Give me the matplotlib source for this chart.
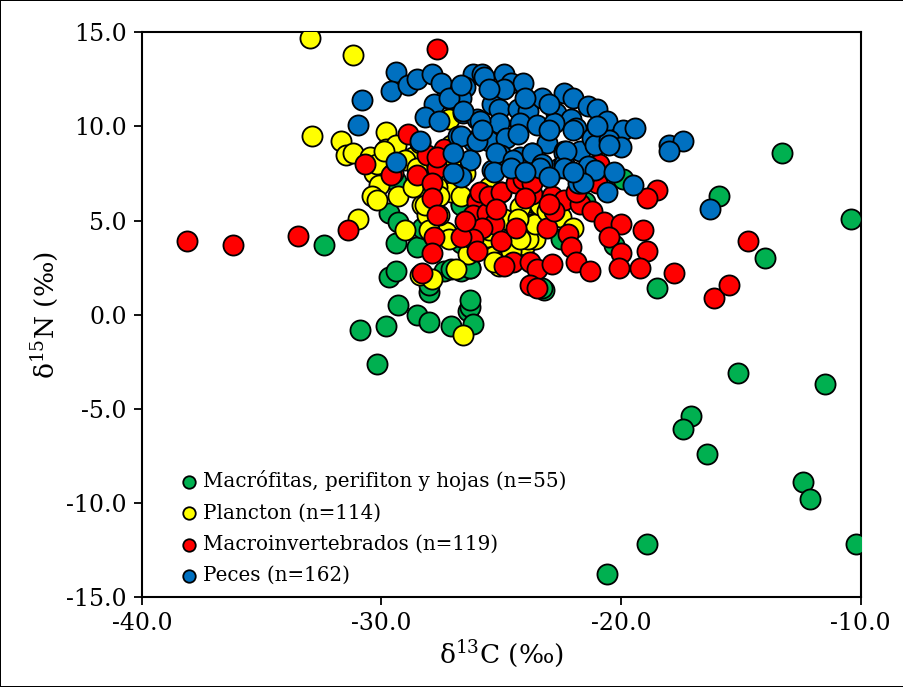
import matplotlib
matplotlib.use("Agg")
import matplotlib.pyplot as plt

# ---------------- data ----------------
labels = ["Macrófitas, perifiton y hojas (n=55)", "Plancton (n=114)",
          "Macroinvertebrados (n=119)", "Peces (n=162)"]
colors = ["#00B050", "#FFFF00", "#FF0000", "#0070C0"]

green_x = [-13.3, -10.4, -15.9, -14.0, -18.5, -15.1, -11.5, -17.1, -17.4, -16.4, -12.4, -12.1,
           -10.2, -18.9, -20.6, -32.4, -29.7, -29.3, -29.4, -28.5, -29.7, -29.4, -27.4, -26.7,
           -26.3, -28.0, -28.0, -29.3, -28.5, -28.0, -30.9, -29.8, -27.1, -26.4, -26.3, -26.2,
           -30.2, -26.7, -23.2, -28.3, -26.7, -19.9, -20.3, -24.8, -29.4, -26.7, -27.1, -26.3,
           -23.3, -26.3, -25.5, -24.0, -22.5, -21.5, -25.0]
green_y = [8.6, 5.1, 6.3, 3.0, 1.4, -3.1, -3.7, -5.4, -6.1, -7.4, -8.9, -9.8,
           -12.2, -12.2, -13.8, 3.7, 5.4, 4.9, 3.8, 3.6, 2.0, 2.3, 2.3, 2.3,
           2.5, 1.2, 1.6, 0.5, 0.0, -0.4, -0.8, -0.6, -0.6, 0.2, 0.4, -0.5,
           -2.6, 5.9, 1.3, 4.6, 3.8, 7.2, 3.7, 3.8, 7.1, 5.8, 2.4, 2.5,
           1.4, 0.8, 4.5, 3.0, 4.0, 6.0, 6.5]

yellow_x = [-33.0, -31.2, -32.9, -31.7, -31.5, -31.2, -30.5, -29.8, -29.8, -30.3, -30.1, -30.4,
            -30.2, -31.0, -29.0, -28.3, -28.1, -28.4, -27.9, -28.2, -28.7, -28.4, -28.1, -28.0,
            -27.1, -26.9, -27.1, -27.2, -26.6, -27.3, -24.1, -24.6, -23.9, -23.4, -24.0, -23.6,
            -25.6, -25.3, -25.1, -24.9, -24.2, -23.7, -23.9, -29.4, -29.0, -28.5, -27.7, -27.6,
            -28.2, -27.6, -28.0, -27.2, -26.7, -27.1, -26.0, -25.5, -24.6, -25.1, -24.2, -23.6,
            -23.4, -23.1, -24.3, -25.3, -26.4, -26.9, -29.3, -28.7, -30.2, -29.9, -26.5, -25.5,
            -22.5, -22.0, -26.2]
yellow_y = [14.7, 13.8, 9.5, 9.2, 8.5, 8.6, 8.4, 9.7, 8.8, 7.5, 6.9, 6.3,
            6.1, 5.1, 4.5, 5.8, 5.3, 2.1, 1.9, 6.8, 8.4, 9.1, 7.8, 7.2,
            6.5, 8.2, 9.0, 10.4, -1.1, 4.4, 5.8, 4.9, 4.9, 4.9, 3.7, 4.0,
            4.1, 3.1, 2.8, 5.1, 5.7, 4.8, 4.0, 9.0, 8.2, 7.8, 6.8, 6.3,
            5.8, 5.3, 4.5, 4.0, 6.3, 7.9, 6.1, 4.5, 3.4, 2.6, 4.0, 4.8,
            5.8, 5.5, 5.1, 2.8, 3.2, 2.4, 6.3, 6.8, 8.0, 8.7, 7.5, 6.8,
            5.2, 4.6, 4.9]

red_x = [-27.7, -38.1, -36.2, -33.5, -31.4, -30.7, -28.9, -28.1, -27.7, -28.5, -29.5, -27.4,
         -27.9, -29.6, -27.9, -27.7, -27.8, -27.9, -28.3, -27.7, -26.0, -26.2, -25.6, -25.3,
         -25.8, -26.2, -26.7, -26.0, -25.0, -25.9, -25.5, -25.0, -24.4, -23.7, -24.4, -24.5,
         -24.9, -23.8, -23.5, -22.9, -23.8, -23.5, -23.1, -22.9, -22.4, -22.8, -22.2, -22.1,
         -21.9, -21.3, -21.7, -21.2, -21.9, -24.1, -23.7, -18.5, -18.9, -20.7, -20.0, -20.5,
         -19.1, -18.9, -20.0, -20.1, -19.2, -17.8, -16.1, -15.5, -14.7, -20.9, -21.0, -21.5,
         -26.5, -25.2, -24.0, -23.0]
red_y = [14.1, 3.9, 3.7, 4.2, 4.5, 8.0, 9.6, 8.5, 7.8, 7.4, 7.5, 8.8,
         7.0, 7.4, 6.2, 5.3, 4.1, 3.3, 2.2, 8.4, 6.0, 5.3, 5.4, 4.8,
         4.6, 4.0, 4.1, 3.4, 3.9, 6.5, 6.3, 6.5, 7.0, 6.4, 4.6, 2.8,
         2.6, 2.8, 2.4, 2.7, 1.6, 1.4, 4.6, 6.3, 6.1, 5.5, 4.3, 3.6,
         2.8, 2.3, 5.9, 5.5, 6.5, 7.2, 7.0, 6.6, 6.2, 4.9, 4.8, 4.1,
         4.5, 3.4, 3.3, 2.5, 2.5, 2.2, 0.9, 1.6, 3.9, 8.0, 7.0, 7.4,
         5.0, 5.6, 6.2, 5.9]

blue_x = [-26.2, -25.8, -25.7, -24.9, -24.6, -24.1, -26.5, -27.3, -26.7, -25.4, -24.9, -25.1,
          -24.3, -23.9, -23.3, -22.4, -22.0, -21.4, -22.7, -22.1, -21.9, -26.6, -26.0, -25.1,
          -24.2, -23.5, -22.8, -26.8, -26.2, -25.5, -24.8, -24.3, -23.7, -23.1, -22.4, -21.7,
          -21.2, -26.3, -25.0, -24.2, -25.4, -26.7, -22.6, -21.4, -21.7,
          -29.4, -29.6, -28.9, -28.5, -27.9, -27.5, -30.8, -31.0, -27.8, -27.2, -28.2, -27.6,
          -28.4, -29.4, -26.7, -26.6, -25.9, -26.7, -26.0, -25.2, -24.5, -23.7, -22.4,
          -22.4, -22.0, -21.8, -21.0, -20.6, -19.9, -19.4, -21.1, -20.5, -20.0, -22.3, -18.0,
          -17.4, -18.0, -21.1, -20.3, -21.6, -20.6, -19.5, -23.3, -22.4, -16.3, -25.3, -23.4,
          -24.6, -23.0, -27.0, -25.5, -23.0, -24.0, -21.0, -20.5, -23.0, -25.8, -27.0, -24.0,
          -22.0]
blue_y = [12.8, 12.8, 12.6, 12.8, 12.3, 12.3, 12.1, 11.5, 11.5, 11.2, 12.0, 10.9,
          10.9, 10.8, 11.5, 11.8, 11.5, 11.1, 10.7, 10.4, 9.9, 10.7, 10.4, 10.2,
          10.2, 10.1, 10.2, 9.5, 9.2, 9.2, 9.4, 9.6, 8.6, 9.1, 8.7, 8.7,
          9.4, 8.2, 8.5, 8.4, 7.7, 7.3, 7.8, 7.9, 7.0,
          12.9, 11.9, 12.2, 12.5, 12.8, 12.3, 11.4, 10.1, 11.2, 11.5, 10.5, 10.3,
          9.2, 8.1, 12.2, 10.8, 10.3, 9.5, 9.2, 8.6, 8.2, 8.6, 8.6,
          8.0, 9.8, 7.0, 10.9, 10.3, 9.8, 9.9, 9.0, 9.3, 8.9, 8.7, 9.0,
          9.2, 8.7, 7.7, 7.6, 7.0, 6.5, 6.9, 8.0, 7.8, 5.6, 7.6, 7.8,
          7.8, 7.3, 7.5, 12.0, 11.2, 11.5, 10.0, 9.0, 9.8, 9.8, 8.6, 7.6,
          7.6]

xs = [green_x, yellow_x, red_x, blue_x]
ys = [green_y, yellow_y, red_y, blue_y]

x_ticks = [-40.0, -30.0, -20.0, -10.0]
y_ticks = [-15.0, -10.0, -5.0, 0.0, 5.0, 10.0, 15.0]

# ---------------- figure ----------------
plt.rcParams["font.family"] = ["DejaVu Serif"]
plt.rcParams["mathtext.fontset"] = "dejavuserif"

fig = plt.figure(figsize=(9.04, 6.87), dpi=100)
fig.patch.set_edgecolor("black")
fig.patch.set_linewidth(1.2)
ax = fig.add_axes([0.157, 0.131, 0.795, 0.822])

for x, y, c, lab in zip(xs, ys, colors, labels):
    ax.scatter(x, y, s=210, c=c, edgecolors="black", linewidths=1.3, label=lab, zorder=3)

ax.set_xlim(-40, -10)
ax.set_ylim(-15, 15)
ax.set_xticks(x_ticks)
ax.set_yticks(y_ticks)
ax.set_xticklabels([f"{v:.1f}" for v in x_ticks])
ax.set_yticklabels([f"{v:.1f}" for v in y_ticks])
ax.tick_params(axis="both", direction="out", length=6, width=1.3, labelsize=17, pad=5)
ax.tick_params(top=False, right=False)
for sp in ax.spines.values():
    sp.set_linewidth(1.5)

ax.set_xlabel("δ$^{13}$C (‰)", fontsize=19, labelpad=2)
ax.set_ylabel("δ$^{15}$N (‰)", fontsize=19, labelpad=4)

leg = ax.legend(loc="lower left", frameon=False, fontsize=14.3, markerscale=0.62,
                handletextpad=0.0, labelspacing=0.62, borderaxespad=0.2,
                handlelength=1.4, bbox_to_anchor=(0.03, 0.0))

fig.savefig("out.png", dpi=100)
